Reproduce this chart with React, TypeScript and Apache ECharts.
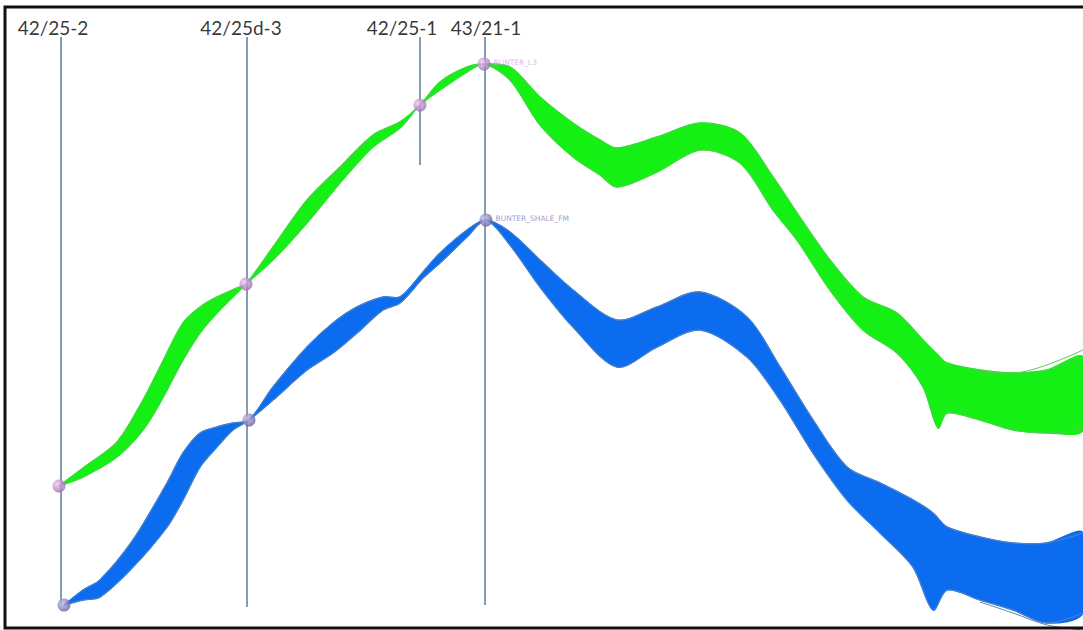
import React, { useEffect, useRef } from "react";
import * as echarts from "echarts";

// Well names, positions along section and vertical extent of the well sticks
const wellNames = ["42/25-2", "42/25d-3", "42/25-1", "43/21-1"];
const wellX = [61, 247, 420, 485];
const wellTop = [37, 37, 37, 37];
const wellBottom = [604, 607, 165, 605];
const wellLabelX = [53, 241, 402, 486];

// Upper horizon (BUNTER_L3) – envelope of realisations
const greenX = [59, 83, 117, 143, 160, 183, 200, 217, 237, 246, 273, 307, 340, 373, 400, 420, 440, 467, 484, 510, 540, 573, 600, 617, 657, 700, 740, 773, 797, 830, 863, 897, 923, 938, 947, 980, 1013, 1047, 1083];
const greenTop = [486, 468, 442, 400, 367, 323, 307, 297, 288, 284, 247, 200, 167, 135, 122, 105, 82, 67, 64, 67, 97, 123, 140, 148, 137, 123, 133, 177, 213, 260, 297, 313, 340, 355, 363, 370, 373, 370, 357];
const greenBottom = [486, 477, 457, 430, 403, 360, 333, 313, 293, 284, 260, 223, 183, 147, 128, 105, 90, 72, 64, 80, 125, 157, 175, 187, 172, 150, 163, 210, 240, 290, 330, 353, 387, 428, 413, 420, 430, 433, 430];
const greenOutlierX = [980, 1013, 1083];
const greenOutlierY = [372, 373, 350];

// Lower horizon (BUNTER_SHALE_FM) – envelope of realisations
const blueX = [64, 83, 100, 133, 167, 183, 200, 217, 233, 249, 273, 307, 333, 357, 383, 400, 423, 440, 467, 486, 510, 540, 573, 617, 657, 700, 747, 780, 813, 847, 880, 913, 933, 947, 980, 1013, 1047, 1083];
const blueTop = [605, 590, 580, 540, 483, 453, 433, 427, 423, 420, 387, 347, 323, 307, 297, 297, 272, 253, 230, 220, 232, 260, 290, 320, 307, 292, 317, 367, 420, 467, 483, 500, 513, 527, 537, 543, 543, 533];
const blueBottom = [605, 600, 597, 567, 527, 500, 467, 447, 430, 420, 400, 370, 353, 333, 310, 303, 278, 263, 237, 220, 245, 287, 327, 367, 347, 330, 357, 400, 453, 500, 533, 567, 610, 590, 600, 610, 623, 613];
const blueOutlierX = [980, 1013, 1047, 1083];
const blueOutlierY = [602, 613, 625, 630];

// Well tops on each horizon
const greenPickX = [59, 246, 420, 484];
const greenPickY = [486, 284, 105, 64];
const bluePickX = [64, 249, 486];
const bluePickY = [605, 420, 220];

const GREEN = "#14f014";
const GREEN_EDGE = "#55cc55";
const BLUE = "#0c6cf0";
const BLUE_EDGE = "#5a85b8";

function band(xs: number[], top: number[], bot: number[], fill: string, edge: string) {
  return {
    type: "custom",
    silent: true,
    data: xs.map((x, i) => [x, top[i], bot[i]]),
    encode: { x: 0, y: [1, 2] },
    z: 2,
    renderItem: (params: any, api: any) => {
      if (params.dataIndex !== 0) return null;
      const upper = xs.map((x, i) => api.coord([x, top[i]]));
      const lower = xs.map((x, i) => api.coord([x, bot[i]]));
      return {
        type: "group",
        children: [
          {
            type: "polygon",
            shape: { points: [...upper, ...lower.slice().reverse()], smooth: 0.3 },
            style: { fill, stroke: fill, lineWidth: 1.5 },
          },
          {
            type: "polyline",
            shape: { points: upper, smooth: 0.3 },
            style: { fill: "none", stroke: edge, lineWidth: 1 },
          },
          {
            type: "polyline",
            shape: { points: lower, smooth: 0.3 },
            style: { fill: "none", stroke: edge, lineWidth: 1 },
          },
        ],
      };
    },
  };
}

function thinLine(xs: number[], ys: number[], color: string) {
  return {
    type: "line",
    data: xs.map((x, i) => [x, ys[i]]),
    symbol: "none",
    smooth: 0.3,
    silent: true,
    lineStyle: { color, width: 1 },
    z: 2,
  };
}

function sphere(light: string, dark: string) {
  return new echarts.graphic.RadialGradient(0.35, 0.35, 0.75, [
    { offset: 0, color: light },
    { offset: 1, color: dark },
  ]);
}

export default function App() {
  const ref = useRef<HTMLDivElement>(null);
  useEffect(() => {
    if (!ref.current) return;
    const chart = echarts.init(ref.current, null, { renderer: "svg" });
    const series: any[] = [
      band(greenX, greenTop, greenBottom, GREEN, GREEN_EDGE),
      band(blueX, blueTop, blueBottom, BLUE, BLUE_EDGE),
      thinLine(greenOutlierX, greenOutlierY, GREEN_EDGE),
      thinLine(blueOutlierX, blueOutlierY, BLUE_EDGE),
      ...wellNames.map((n, i) => ({
        type: "line",
        name: n,
        data: [
          [wellX[i], wellTop[i]],
          [wellX[i], wellBottom[i]],
        ],
        symbol: "none",
        lineStyle: { color: "#5d7b98", width: 1.5 },
        z: 3,
      })),
      {
        type: "scatter",
        symbolSize: 0,
        data: wellNames.map((n, i) => ({ value: [wellLabelX[i], 27], name: n })),
        label: {
          show: true,
          position: "inside",
          formatter: (p: any) => p.name,
          color: "#000",
          fontSize: 19,
          fontFamily: "Lato",
        },
        z: 5,
      },
      {
        type: "scatter",
        symbolSize: 13,
        itemStyle: { color: sphere("#eec8f2", "#9662ae") },
        data: greenPickX.map((x, i) => ({
          value: [x, greenPickY[i]],
          label:
            i === greenPickX.length - 1
              ? { show: true, position: "right", offset: [-2, -2], formatter: "BUNTER_L3", color: "#e39ce8", fontSize: 7.5, fontFamily: "DejaVu Sans" }
              : { show: false },
        })),
        z: 4,
      },
      {
        type: "scatter",
        symbolSize: 13,
        itemStyle: { color: sphere("#c4bfec", "#5c5698") },
        data: bluePickX.map((x, i) => ({
          value: [x, bluePickY[i]],
          label:
            i === bluePickX.length - 1
              ? { show: true, position: "right", offset: [-2, -2], formatter: "BUNTER_SHALE_FM", color: "#8a84c4", fontSize: 7.5, fontFamily: "DejaVu Sans" }
              : { show: false },
        })),
        z: 4,
      },
    ];
    chart.setOption({
      animation: false,
      backgroundColor: "#ffffff",
      grid: { left: 0, right: 0, top: 0, bottom: 0 },
      xAxis: { type: "value", min: 0, max: 1083, show: false },
      yAxis: { type: "value", min: 0, max: 630, inverse: true, show: false },
      graphic: [
        {
          type: "rect",
          shape: { x: 5, y: 7, width: 1100, height: 621 },
          style: { fill: "none", stroke: "#111", lineWidth: 3 },
          z: 10,
        },
      ],
      series,
    });
    return () => chart.dispose();
  }, []);
  return (
    <div
      ref={ref}
      style={{ position: "fixed", left: 0, top: 0, width: 1083, height: 630, background: "#fff" }}
    />
  );
}
